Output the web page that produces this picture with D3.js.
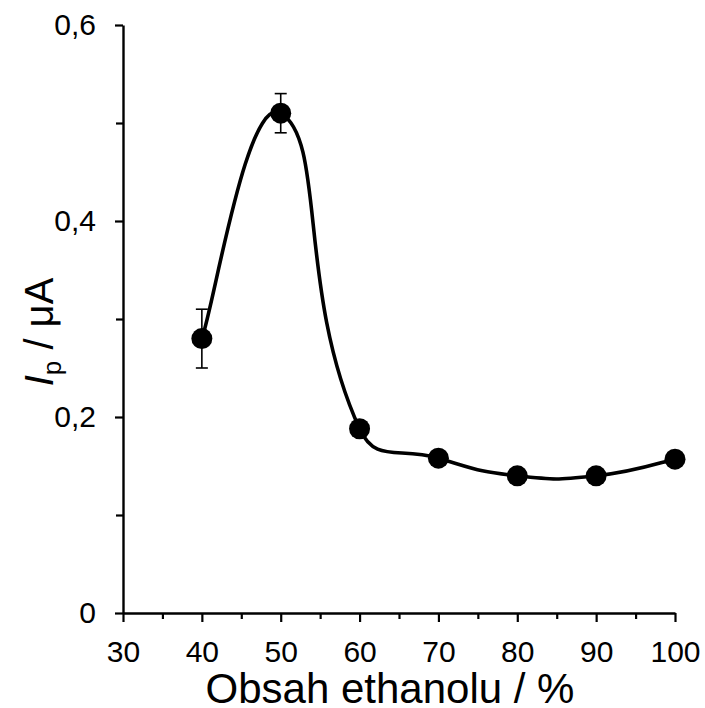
<!DOCTYPE html>
<html>
<head>
<meta charset="utf-8">
<script src="https://cdn.jsdelivr.net/npm/d3@7"></script>
<style>
  html, body { margin: 0; padding: 0; background: #fff; }
  svg { display: block; }
  text { font-family: "Liberation Sans", Arial, sans-serif; fill: #000; }
</style>
</head>
<body>
<svg id="chart" width="705" height="708"></svg>
<script>
// Ethanol content (%) and peak current Ip (µA) with standard deviations
const ethanol = [40, 50, 60, 70, 80, 90, 100];
const current = [0.28, 0.51, 0.188, 0.158, 0.14, 0.14, 0.157];
const errors  = [0.03, 0.02, 0, 0, 0, 0, 0];

const xTicks = [30, 40, 50, 60, 70, 80, 90, 100];
const xMinorTicks = [35, 45, 55, 65, 75, 85, 95];
const yTicks = [0, 0.2, 0.4, 0.6];
const yMinorTicks = [0.1, 0.3, 0.5];

const svg = d3.select("#chart");

const x = d3.scaleLinear().domain([30, 100]).range([123, 675]);
const y = d3.scaleLinear().domain([0, 0.6]).range([613, 25]);

const fmt = d => d === 0 ? "0" : d3.format(".1f")(d).replace(".", ",");

// Minor ticks (unlabelled)
svg.append("g")
  .attr("transform", `translate(0,${y(0)})`)
  .call(d3.axisBottom(x).tickValues(xMinorTicks).tickSize(6).tickFormat(""))
  .call(g => g.select(".domain").remove())
  .selectAll("line").attr("stroke", "#000").attr("stroke-width", 2.2);

svg.append("g")
  .attr("transform", `translate(${x(30)},0)`)
  .call(d3.axisLeft(y).tickValues(yMinorTicks).tickSize(7).tickFormat(""))
  .call(g => g.select(".domain").remove())
  .selectAll("line").attr("stroke", "#000").attr("stroke-width", 2.2);

// Main axes
const xAxis = svg.append("g")
  .attr("transform", `translate(0,${y(0)})`)
  .call(d3.axisBottom(x).tickValues(xTicks).tickSize(9).tickSizeOuter(0).tickPadding(19));
xAxis.select(".domain").attr("stroke", "#000").attr("stroke-width", 2.4);
xAxis.selectAll(".tick line").attr("stroke", "#000").attr("stroke-width", 2.2);
xAxis.selectAll("text").attr("font-size", 30).attr("font-family", "Liberation Sans, Arial, sans-serif").attr("fill", "#000");

const yAxis = svg.append("g")
  .attr("transform", `translate(${x(30)},0)`)
  .call(d3.axisLeft(y).tickValues(yTicks).tickFormat(fmt).tickSize(8).tickSizeOuter(0).tickPadding(19));
yAxis.select(".domain").attr("stroke", "#000").attr("stroke-width", 2.4);
yAxis.selectAll(".tick line").attr("stroke", "#000").attr("stroke-width", 2.2);
yAxis.selectAll("text").attr("font-size", 30).attr("font-family", "Liberation Sans, Arial, sans-serif").attr("fill", "#000");

const data = ethanol.map((e, i) => ({ x: e, y: current[i], err: errors[i] }));

// Smoothed line: cubic Bezier through every point; the tangent at each point
// follows its neighbours, and its length is shared in proportion to the
// adjacent segment lengths so short segments stay tight.
function smoothPath(pts, k) {
  const p = d3.path();
  const n = pts.length;
  const dist = (a, b) => Math.hypot(b[0] - a[0], b[1] - a[1]);
  const ctrl = pts.map((pt, i) => {
    if (i === 0 || i === n - 1) {
      const o = i === 0 ? pts[1] : pts[n - 2];
      const v = [(o[0] - pt[0]) / 6, (o[1] - pt[1]) / 6];
      return i === 0 ? { out: [pt[0] + v[0], pt[1] + v[1]] } : { inn: [pt[0] + v[0], pt[1] + v[1]] };
    }
    const a = pts[i - 1], b = pts[i + 1];
    const t = [b[0] - a[0], b[1] - a[1]];
    const dIn = dist(a, pt), dOut = dist(pt, b), s = dIn + dOut;
    const fIn = (dIn / s) * k, fOut = (dOut / s) * k;
    return {
      inn: [pt[0] - t[0] * fIn, pt[1] - t[1] * fIn],
      out: [pt[0] + t[0] * fOut, pt[1] + t[1] * fOut]
    };
  });
  p.moveTo(pts[0][0], pts[0][1]);
  for (let i = 0; i < n - 1; i++) {
    const c1 = ctrl[i].out, c2 = ctrl[i + 1].inn, e = pts[i + 1];
    p.bezierCurveTo(c1[0], c1[1], c2[0], c2[1], e[0], e[1]);
  }
  return p.toString();
}

svg.append("path")
  .attr("d", smoothPath(data.map(d => [x(d.x), y(d.y)]), 0.5))
  .attr("fill", "none")
  .attr("stroke", "#000")
  .attr("stroke-width", 3.6);

// Error bars
const eb = svg.append("g").attr("stroke", "#000").attr("stroke-width", 1.6);
data.filter(d => d.err > 0).forEach(d => {
  const cx = x(d.x);
  eb.append("line").attr("x1", cx).attr("x2", cx).attr("y1", y(d.y - d.err)).attr("y2", y(d.y + d.err));
  eb.append("line").attr("x1", cx - 6).attr("x2", cx + 6).attr("y1", y(d.y + d.err)).attr("y2", y(d.y + d.err));
  eb.append("line").attr("x1", cx - 6).attr("x2", cx + 6).attr("y1", y(d.y - d.err)).attr("y2", y(d.y - d.err));
});

// Markers
svg.append("g")
  .selectAll("circle")
  .data(data)
  .join("circle")
  .attr("cx", d => x(d.x))
  .attr("cy", d => y(d.y))
  .attr("r", 10.5)
  .attr("fill", "#000");

// Axis titles
svg.append("text")
  .attr("x", 390)
  .attr("y", 703)
  .attr("text-anchor", "middle")
  .attr("font-size", 42)
  .text("Obsah ethanolu / %");

const yt = svg.append("text")
  .attr("transform", "translate(53,332) rotate(-90)")
  .attr("text-anchor", "middle")
  .attr("font-size", 40);
yt.append("tspan").attr("font-style", "italic").text("I");
yt.append("tspan").attr("font-size", 26).attr("dy", 8).text("p");
yt.append("tspan").attr("dy", -8).text(" / μA");
</script>
</body>
</html>
